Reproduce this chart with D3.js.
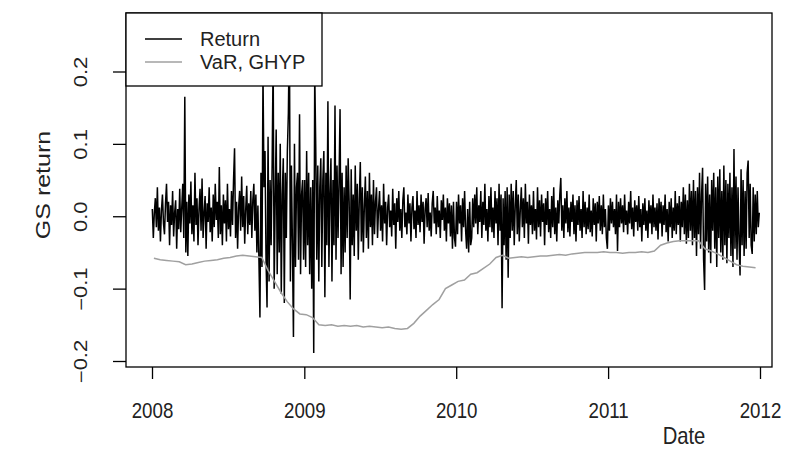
<!DOCTYPE html>
<html>
<head>
  <meta charset="utf8">
  <title>GS return</title>
  <style type="text/css">
    body { margin: 0; background: #fff; font-family: "Liberation Sans", Arial, sans-serif; }
    text { fill: #222; }
  </style>
</head>
<body>
<script src="https://cdn.jsdelivr.net/npm/d3@7"></script>
<script type="text/javascript">

var width = 789, height = 449;
var box = { left: 126, right: 772, top: 13, bottom: 367 };

// daily-ish returns (about every 2.4 days)
var ret2008 = [0.010,-0.030,0.005,0.025,-0.015,0.040,-0.020,0.012,-0.035,0.008,0.030,-0.010,-0.025,0.018,0.045,-0.008,0.020,-0.040,0.015,-0.012,
  0.035,-0.028,0.005,0.022,-0.045,0.010,-0.018,0.038,-0.022,0.012,0.045,-0.030,
  0.165,-0.050,0.020,-0.055,
  0.030,-0.010,0.048,-0.025,0.015,-0.035,0.060,-0.012,0.025,-0.040,0.010,0.038,-0.020,0.052,-0.030,0.005,0.028,-0.045,0.018,-0.008,
  0.040,-0.022,0.012,-0.035,0.030,-0.015,0.045,-0.005,0.020,-0.030,
  0.068,-0.025,0.015,-0.040,0.030,-0.010,0.022,-0.035,0.045,-0.018,0.010,-0.028,0.035,-0.012,0.050,
  0.094,-0.030,0.020,-0.045,0.012,0.035,-0.020,0.055,-0.015,0.028,-0.038,0.010,0.042,-0.025,0.018,-0.012,0.035,-0.030,0.022,0.045,
  -0.020,0.030,-0.050,0.015,-0.060,
  -0.140,0.060,-0.070,0.200,0.040,0.090,-0.060,-0.126,0.110,-0.090,0.050,-0.040,0.070,0.220,-0.100,0.020,0.120,-0.080,0.060,-0.050,
  0.100,-0.107,0.030,0.080,-0.120,0.060,-0.030,0.090,0.142,0.260,-0.090,0.070,-0.040,-0.167,0.100,-0.070,0.040,0.060,-0.060,0.141,
  -0.080,0.030,0.050,-0.060]
var ret2009 = [0.050,-0.070,0.090,-0.040,0.060,-0.080,0.040,-0.100,0.050,-0.189,0.200,0.094,-0.060,0.070,-0.090,0.040,0.080,-0.070,0.050,0.090,
  -0.112,0.060,-0.040,0.159,-0.070,0.030,0.080,-0.090,0.050,-0.040,0.153,-0.060,0.070,-0.030,0.050,0.148,-0.080,0.060,-0.070,0.040,
  -0.050,0.070,-0.030,0.080,0.020,-0.115,
  0.065,-0.040,0.030,-0.055,0.070,-0.020,0.045,-0.060,0.025,0.075,-0.035,0.040,-0.050,0.015,0.055,-0.030,0.035,-0.045,0.060,-0.015,
  0.030,-0.040,0.050,-0.025,0.020,
  0.040,-0.030,0.010,0.035,-0.020,0.015,-0.035,0.045,-0.010,0.020,-0.040,0.012,0.030,-0.015,0.008,-0.028,0.038,-0.012,0.018,-0.045,
  0.025,-0.008,0.035,-0.020,0.010,-0.030,0.022,0.040,-0.015,0.005,-0.025,0.030,-0.010,0.018,-0.035,0.012,0.028,-0.018,0.008,-0.030,
  0.035,-0.012,0.015,-0.022,0.030,-0.008,0.020,-0.038,0.010,0.025,-0.015,0.032,-0.020,0.005,-0.028,0.018,0.035,-0.010,0.012,-0.025,
  0.028,-0.015,0.008,-0.030,0.022,-0.005,0.030,-0.020,0.012,-0.035,0.025,-0.010,0.018,-0.028,0.015,-0.045,0.020,-0.030,-0.042]
var ret2010 = [0.020,-0.025,0.030,-0.010,0.015,-0.035,0.025,-0.015,0.035,-0.020,-0.045,0.010,-0.050,0.020,-0.040,-0.030,0.025,-0.015,0.030,-0.010,
  0.040,-0.025,0.015,-0.008,0.035,-0.030,0.020,-0.012,0.045,-0.020,0.010,-0.035,0.028,-0.015,0.040,-0.022,0.012,-0.030,0.035,-0.010,
  0.025,-0.040,0.045,-0.020,0.030,
  -0.127,0.025,-0.040,0.035,-0.060,0.040,-0.085,0.030,-0.030,0.045,
  -0.020,0.035,-0.040,0.015,0.050,-0.025,0.030,-0.035,0.010,0.040,-0.015,0.025,-0.030,0.045,-0.010,0.020,-0.038,0.030,-0.012,0.015,
  -0.025,0.035,-0.020,0.010,-0.032,0.040,-0.015,0.022,-0.028,0.030,-0.008,0.018,-0.040,0.025,-0.012,0.035,-0.022,0.010,-0.030,0.028,
  -0.015,0.040,-0.025,0.012,-0.035,0.022,-0.010,0.030,
  0.053,
  -0.020,0.015,-0.030,0.025,-0.010,0.035,-0.022,0.012,-0.028,0.020,-0.008,0.030,-0.025,0.015,-0.035,0.022,-0.012,0.028,-0.020,0.010,
  -0.030,0.035,-0.015,0.020,-0.025,0.012,-0.018,0.030,-0.022,0.008,-0.028,0.025,-0.012,0.018,-0.035,0.020,-0.010,0.028,-0.020,0.015,
  -0.025,0.030,-0.015,0.010,-0.030,-0.045]
var ret2011 = [0.015,-0.020,0.025,-0.010,0.020,-0.015,0.010,-0.025,0.030,-0.048,
  0.020,-0.015,0.025,-0.010,0.015,-0.022,0.030,-0.012,0.008,-0.025,0.020,-0.010,0.035,-0.018,0.012,-0.028,0.022,-0.008,0.015,-0.020,
  0.028,-0.015,0.010,-0.035,0.018,-0.012,0.025,-0.020,0.008,-0.030,0.022,-0.010,0.015,-0.025,0.030,-0.015,0.012,-0.020,0.018,-0.032,
  0.025,-0.010,0.020,-0.028,0.015,-0.012,0.030,-0.022,0.010,-0.035,0.020,-0.015,0.025,-0.030,0.012,-0.020,0.035,-0.025,0.018,-0.012,
  0.028,-0.035,0.020,-0.015,0.040,-0.025,0.030,-0.038,0.022,-0.030,0.045,-0.020,0.035,
  -0.040,0.050,-0.030,0.035,-0.055,0.040,-0.025,0.060,-0.045,0.030,0.067,-0.060,-0.102,0.045,-0.035,0.055,-0.050,0.030,-0.065,0.050,
  -0.020,0.060,-0.045,0.040,-0.070,0.055,-0.030,0.065,-0.050,0.035,-0.060,0.070,-0.040,0.050,-0.065,0.045,-0.030,0.060,-0.055,0.040,
  -0.070,0.093,-0.045,0.055,-0.060,0.040,-0.035,-0.082,0.065,-0.040,0.050,-0.055,0.035,-0.045,0.060,0.077,-0.030,0.045,-0.040,-0.052,
  0.040,-0.035,0.030,-0.025,0.035,-0.015,0.005]

// VaR (GHYP), about two readings per month
var var2008 = [-0.058,-0.060,-0.061,-0.062,-0.063,-0.067,-0.066,-0.064,-0.062,-0.061,-0.060,-0.058,-0.057,-0.055,-0.054,-0.055,-0.056,-0.057,
  -0.075,-0.090,-0.105,-0.118,-0.128,-0.135]
var var2009 = [-0.136,-0.140,-0.150,-0.151,-0.150,-0.152,-0.151,-0.152,-0.151,-0.153,-0.152,-0.153,-0.154,-0.153,-0.155,-0.156,-0.155,
  -0.148,-0.138,-0.130,-0.122,-0.115,-0.100,-0.095]
var var2010 = [-0.090,-0.088,-0.080,-0.078,-0.072,-0.066,-0.057,-0.054,-0.058,-0.057,-0.056,-0.057,-0.056,-0.055,-0.055,-0.054,
  -0.053,-0.054,-0.052,-0.051,-0.050,-0.050,-0.050,-0.049]
var var2011 = [-0.050,-0.050,-0.051,-0.050,-0.050,-0.049,-0.050,-0.048,-0.040,-0.037,-0.035,-0.034,-0.034,-0.034,-0.034,
  -0.045,-0.048,-0.052,-0.057,-0.062,-0.067,-0.069,-0.070,-0.071]

var years = [2008, 2009, 2010, 2011]
var yearTicks = [2008, 2009, 2010, 2011, 2012]
var yTicks = [-0.2, -0.1, 0.0, 0.1, 0.2]

function spread(byYear) {
  var out = []
  byYear.forEach(function(vals, k) {
    var y0 = new Date(years[k], 0, 1), y1 = new Date(years[k] + 1, 0, 1)
    vals.forEach(function(v, i) {
      out.push({ date: new Date(+y0 + (i + 0.3) / vals.length * (y1 - y0)), value: v })
    })
  })
  return out
}

var returns = spread([ret2008, ret2009, ret2010, ret2011])
var vars = spread([var2008, var2009, var2010, var2011])

var x = d3.scaleTime()
  .domain([new Date(2008, 0, 1), new Date(2012, 0, 1)])
  .range([152, 760])

var y = d3.scaleLinear()
  .domain([-0.2, 0.2])
  .range([361, 71.5])

var svg = d3.select('body').append('svg')
  .attr('width', width)
  .attr('height', height)

svg.append('clipPath').attr('id', 'plotclip')
  .append('rect')
  .attr('x', box.left).attr('y', box.top)
  .attr('width', box.right - box.left).attr('height', box.bottom - box.top)

var line = d3.line()
  .x(function(d) { return x(d.date) })
  .y(function(d) { return y(d.value) })

var plot = svg.append('g').attr('clip-path', 'url(#plotclip)')

plot.append('path')
  .datum(returns)
  .attr('d', line)
  .attr('fill', 'none')
  .attr('stroke', '#000')
  .attr('stroke-width', 1.5)

plot.append('path')
  .datum(vars)
  .attr('d', line)
  .attr('fill', 'none')
  .attr('stroke', '#a0a0a0')
  .attr('stroke-width', 1.5)

// axes, R style: outward ticks, no domain line
var xAxis = svg.append('g')
  .attr('transform', 'translate(0,' + box.bottom + ')')
  .call(d3.axisBottom(x)
    .tickValues(yearTicks.map(function(d) { return new Date(d, 0, 1) }))
    .tickFormat(d3.timeFormat('%Y'))
    .tickSize(12))
xAxis.select('.domain').remove()
xAxis.selectAll('.tick line').attr('stroke-width', 1.3)
xAxis.selectAll('.tick text')
  .attr('y', null).attr('dy', null)
  .attr('transform', 'translate(0,51) scale(0.85,1)')
  .attr('fill', '#222')
  .style('font-size', '22px')
  .style('font-family', '"Liberation Sans", Arial, sans-serif')

var yAxis = svg.append('g')
  .attr('transform', 'translate(' + box.left + ',0)')
  .call(d3.axisLeft(y)
    .tickValues(yTicks)
    .tickFormat(d3.format('.1f'))
    .tickSize(13))
yAxis.select('.domain').remove()
yAxis.selectAll('.tick line').attr('stroke-width', 1.3)
yAxis.selectAll('.tick text')
  .attr('x', null).attr('dy', null)
  .attr('text-anchor', 'middle')
  .attr('transform', 'translate(-39,0) scale(0.8,1) rotate(-90)')
  .attr('fill', '#222')
  .style('font-size', '22px')
  .style('font-family', '"Liberation Sans", Arial, sans-serif')

svg.append('rect')
  .attr('x', box.left).attr('y', box.top)
  .attr('width', box.right - box.left).attr('height', box.bottom - box.top)
  .attr('fill', 'none').attr('stroke', '#000').attr('stroke-width', 1.3)

svg.append('text')
  .attr('transform', 'translate(684,444) scale(0.88,1)')
  .attr('text-anchor', 'middle')
  .style('font-size', '23px')
  .text('Date')

svg.append('text')
  .attr('transform', 'translate(50,185) scale(0.8,1) rotate(-90)')
  .attr('text-anchor', 'middle')
  .style('font-size', '25px')
  .text('GS return')

// legend
var legend = svg.append('g')
legend.append('rect')
  .attr('x', box.left).attr('y', box.top)
  .attr('width', 196).attr('height', 73)
  .attr('fill', '#fff').attr('stroke', '#000').attr('stroke-width', 1.3)

var items = [{ label: 'Return', color: '#000' }, { label: 'VaR, GHYP', color: '#a0a0a0' }]
items.forEach(function(it, i) {
  var yy = 39 + i * 23
  legend.append('line')
    .attr('x1', 145).attr('x2', 182).attr('y1', yy).attr('y2', yy)
    .attr('stroke', it.color).attr('stroke-width', 1.5)
  legend.append('text')
    .attr('x', 200).attr('y', yy + 7)
    .style('font-size', '20px')
    .text(it.label)
})

</script>
</body>
</html>
